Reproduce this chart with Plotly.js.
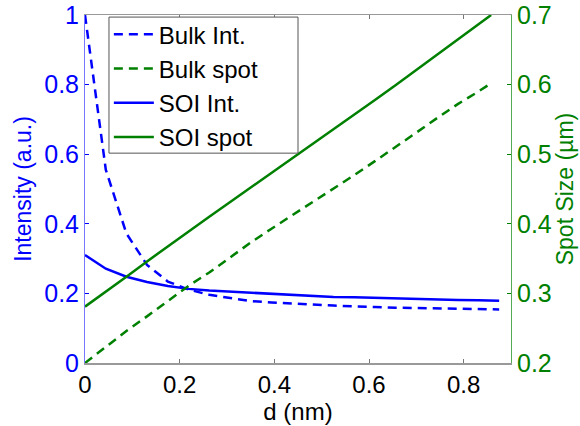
<!DOCTYPE html>
<html>
<head>
<meta charset="utf-8">
<script src="https://cdn.plot.ly/plotly-3.0.1.min.js"></script>
<style>
  html, body { margin: 0; padding: 0; background: #fff; }
  #chart { width: 580px; height: 426px; }
</style>
</head>
<body>
<div id="chart"></div>
<script>
// Separation d (nm) for the intensity curves
const dInt = [0, 0.044, 0.0875, 0.131, 0.175, 0.219, 0.2625, 0.306, 0.35, 0.394, 0.4375,
              0.481, 0.525, 0.569, 0.6125, 0.656, 0.7, 0.744, 0.7875, 0.831, 0.875];
// Separation d (nm) for the spot-size curves
const dSpot = [0, 0.044, 0.0875, 0.131, 0.175, 0.219, 0.2625, 0.306, 0.35, 0.394, 0.4375,
               0.481, 0.525, 0.569, 0.6125, 0.656, 0.7, 0.744, 0.7875, 0.831, 0.858];

// Normalised intensity (a.u.)
const bulkInt = [1.0, 0.555, 0.372, 0.282, 0.234, 0.211, 0.196, 0.186, 0.178, 0.174, 0.170,
                 0.168, 0.165, 0.162, 0.161, 0.159, 0.158, 0.158, 0.157, 0.156, 0.154];
const soiInt = [0.31, 0.271, 0.248, 0.233, 0.221, 0.213, 0.208, 0.205, 0.201, 0.197, 0.195,
                0.192, 0.190, 0.189, 0.187, 0.186, 0.185, 0.183, 0.181, 0.180, 0.179];

// Spot size (µm)
const bulkSpot = [0.200, 0.223, 0.246, 0.267, 0.289, 0.311, 0.330, 0.352, 0.373, 0.393, 0.412,
                  0.431, 0.450, 0.470, 0.490, 0.511, 0.531, 0.552, 0.572, 0.590, 0.602];
const soiSpot = [0.281, 0.302, 0.324, 0.346, 0.367, 0.389, 0.410, 0.431, 0.452, 0.473, 0.494,
                 0.515, 0.535, 0.556, 0.578, 0.599, 0.621, 0.643, 0.665, 0.687, 0.700];

const seriesNames = ['Bulk Int.', 'Bulk spot', 'SOI Int.', 'SOI spot'];

const BLUE = '#0000ff';
const GREEN = '#008000';
const FONT = 'Liberation Sans, Arial, sans-serif';
const FS = 25;
const DASH = '9px,6px';

const traces = [
  { x: dInt, y: bulkInt, name: seriesNames[0], yaxis: 'y', mode: 'lines',
    line: { color: BLUE, width: 2.5, dash: DASH } },
  { x: dSpot, y: bulkSpot, name: seriesNames[1], yaxis: 'y2', mode: 'lines',
    line: { color: GREEN, width: 2.5, dash: DASH } },
  { x: dInt, y: soiInt, name: seriesNames[2], yaxis: 'y', mode: 'lines',
    line: { color: BLUE, width: 2.5 } },
  { x: dSpot, y: soiSpot, name: seriesNames[3], yaxis: 'y2', mode: 'lines',
    line: { color: GREEN, width: 2.5 } }
];

const layout = {
  width: 580, height: 426,
  margin: { l: 85, r: 69, t: 15, b: 63 },
  paper_bgcolor: '#fff', plot_bgcolor: '#fff',
  font: { family: FONT, size: FS, color: '#000' },
  showlegend: true,
  // legend entries sit on a framed panel drawn as a shape, which sets the box width
  legend: {
    x: 0.056, y: 1.008, xanchor: 'left', yanchor: 'top',
    bgcolor: 'rgba(0,0,0,0)', borderwidth: 0,
    font: { family: FONT, size: 24, color: '#000' },
    itemwidth: 40,
    traceorder: 'normal'
  },
  shapes: [{
    type: 'rect', xref: 'paper', yref: 'paper', layer: 'above',
    x0: 0.0563, x1: 0.5, y0: 0.603, y1: 0.994,
    fillcolor: '#fff', line: { color: '#555', width: 1 }
  }],
  xaxis: {
    range: [0, 0.9], tickvals: [0, 0.2, 0.4, 0.6, 0.8], ticktext: ['0', '0.2', '0.4', '0.6', '0.8'],
    ticks: 'inside', ticklen: 4, tickcolor: '#777', tickwidth: 1,
    showline: true, linecolor: '#999', linewidth: 1.5, mirror: 'ticks',
    showgrid: false, zeroline: false,
    tickfont: { family: FONT, size: 24, color: '#000' },
    title: { text: 'd (nm)', font: { family: FONT, size: 24, color: '#000' }, standoff: 6 }
  },
  yaxis: {
    range: [0, 1], tickvals: [0, 0.2, 0.4, 0.6, 0.8, 1], ticktext: ['0', '0.2', '0.4', '0.6', '0.8', '1'],
    ticks: 'inside', ticklen: 4, tickcolor: BLUE, tickwidth: 1,
    showline: true, linecolor: '#7777ff', linewidth: 1,
    showgrid: false, zeroline: false,
    tickfont: { family: FONT, size: FS, color: BLUE },
    title: { text: 'Intensity (a.u.)', font: { family: FONT, size: 23, color: BLUE }, standoff: 6 }
  },
  yaxis2: {
    range: [0.2, 0.7], tickvals: [0.2, 0.3, 0.4, 0.5, 0.6, 0.7],
    ticktext: ['0.2', '0.3', '0.4', '0.5', '0.6', '0.7'],
    overlaying: 'y', side: 'right',
    ticks: 'inside', ticklen: 4, tickcolor: GREEN, tickwidth: 1,
    showline: true, linecolor: '#55aa55', linewidth: 1,
    showgrid: false, zeroline: false,
    tickfont: { family: FONT, size: FS, color: GREEN },
    title: { text: 'Spot Size (µm)', font: { family: FONT, size: 23, color: GREEN }, standoff: 5 }
  }
};

Plotly.newPlot('chart', traces, layout, { displayModeBar: false, staticPlot: true });
</script>
</body>
</html>
